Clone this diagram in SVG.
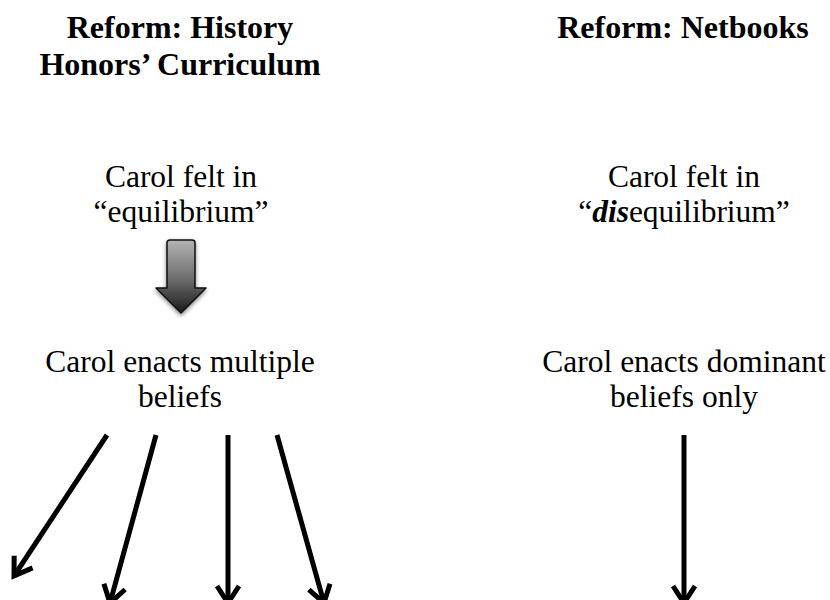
<svg xmlns="http://www.w3.org/2000/svg" width="830" height="600" viewBox="0 0 830 600">
  <style>
    .title { font-family: "Liberation Serif", "Times New Roman", serif; font-weight: bold; font-size: 32px; fill: #000; text-anchor: middle; }
    .body { font-family: "Liberation Serif", "Times New Roman", serif; font-size: 31.5px; fill: #000; text-anchor: middle; }
    .link { stroke: #000; stroke-width: 5; fill: none; marker-end: url(#chevron); }
  </style>
  <defs>
    <marker id="chevron" markerUnits="userSpaceOnUse" markerWidth="40" markerHeight="40" refX="0" refY="0" orient="auto" overflow="visible">
      <path d="M -17 -11 L 0 0 L -17 11" fill="none" stroke="#000" stroke-width="5" stroke-linejoin="miter"/>
    </marker>
    <linearGradient id="blockFill" x1="0" y1="0" x2="0" y2="1">
      <stop offset="0" stop-color="#b4b4b4"/>
      <stop offset="0.55" stop-color="#6a6a6a"/>
      <stop offset="1" stop-color="#1a1a1a"/>
    </linearGradient>
    <filter id="softShadow" x="-30%" y="-30%" width="160%" height="160%">
      <feGaussianBlur in="SourceAlpha" stdDeviation="2"/>
      <feOffset dx="0" dy="2" result="blur"/>
      <feComponentTransfer><feFuncA type="linear" slope="0.5"/></feComponentTransfer>
      <feMerge><feMergeNode/><feMergeNode in="SourceGraphic"/></feMerge>
    </filter>
  </defs>

  <!-- Column headings -->
  <g id="heading-history">
    <text class="title" x="180" y="38">Reform: History</text>
    <text class="title" x="180" y="75">Honors’ Curriculum</text>
  </g>
  <g id="heading-netbooks">
    <text class="title" x="683" y="38">Reform: Netbooks</text>
  </g>

  <!-- Left column -->
  <g id="equilibrium">
    <text class="body" x="181" y="187">Carol felt in</text>
    <text class="body" x="181" y="222">“equilibrium”</text>
  </g>
  <g id="multiple-beliefs">
    <text class="body" x="180" y="372">Carol enacts multiple</text>
    <text class="body" x="180" y="407">beliefs</text>
  </g>

  <!-- Right column -->
  <g id="disequilibrium">
    <text class="body" x="684" y="187">Carol felt in</text>
    <text class="body" x="684" y="222">“<tspan font-weight="bold" font-style="italic">dis</tspan>equilibrium”</text>
  </g>
  <g id="dominant-beliefs">
    <text class="body" x="684" y="372">Carol enacts dominant</text>
    <text class="body" x="684" y="407">beliefs only</text>
  </g>

  <!-- Connectors -->
  <g id="connectors">
    <!-- shaded block arrow between the first two left-hand statements -->
    <path d="M 170 240 L 192 240 Q 195 240 195 243 L 195 288 L 206 288 L 181 313 L 156 288 L 167 288 L 167 243 Q 167 240 170 240 Z"
          fill="url(#blockFill)" stroke="#111" stroke-width="1.5" stroke-linejoin="round" filter="url(#softShadow)"/>
    <!-- fan of arrows under the left column -->
    <line class="link" x1="107" y1="435" x2="14" y2="576"/>
    <line class="link" x1="156" y1="435" x2="110" y2="603"/>
    <line class="link" x1="228" y1="435" x2="228" y2="603"/>
    <line class="link" x1="277" y1="435" x2="324" y2="603"/>
    <!-- single arrow under the right column -->
    <line class="link" x1="684" y1="435" x2="684" y2="603"/>
  </g>
</svg>
